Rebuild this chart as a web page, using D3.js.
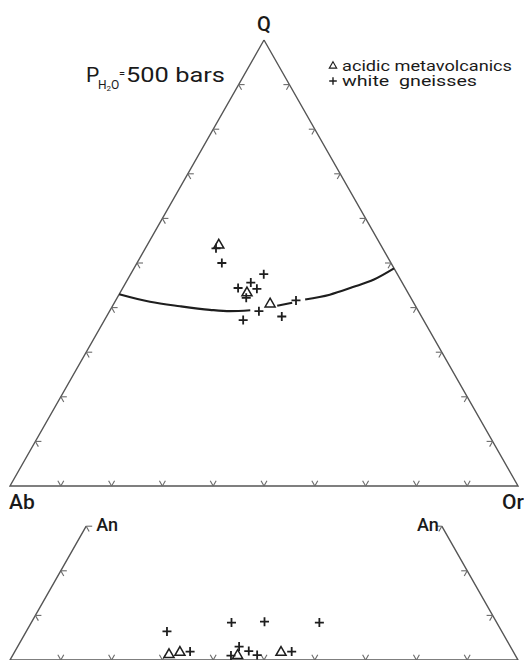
<!DOCTYPE html>
<html>
<head>
<meta charset="utf-8">
<script src="https://cdn.jsdelivr.net/npm/d3@7/dist/d3.min.js"></script>
<style>
  html, body { margin: 0; padding: 0; background: #fff; }
  svg { display: block; }
</style>
</head>
<body>
<div id="chart"></div>
<script>
// Q–Ab–Or ternary (upper) and the Ab–Or–An section (lower), P(H2O) = 500 bars

// Upper diagram samples, percent [Q, Ab, Or]
const upperTriangles = [
  [54.0, 31.9, 14.1],
  [43.3, 31.7, 25.0],
  [40.8, 28.4, 30.8]
];
const upperPluses = [
  [53.3, 32.8, 13.9],
  [50.0, 33.3, 16.7],
  [47.5, 26.3, 26.2],
  [44.4, 32.9, 22.7],
  [45.6, 29.8, 24.6],
  [44.2, 29.3, 26.5],
  [42.2, 32.4, 25.4],
  [39.2, 31.4, 29.4],
  [41.6, 22.9, 35.5],
  [37.2, 35.5, 27.3],
  [38.0, 27.5, 34.5]
];

// Cotectic line at 500 bars, percent [Q, Ab, Or]; null marks a break in the line
const cotectic = [
  [43.0, 57.0, 0.0],
  [41.3, 51.8, 6.9],
  [40.3, 46.4, 13.3],
  [39.5, 40.9, 19.6],
  [39.2, 37.1, 23.7],
  [39.4, 33.0, 27.6],
  null,
  [40.4, 27.2, 32.4],
  [41.1, 23.9, 35.0],
  null,
  [41.8, 21.0, 37.2],
  [42.9, 15.6, 41.5],
  [44.6, 10.2, 45.2],
  [46.3, 5.2, 48.5],
  [48.8, 0.0, 51.2]
];

// Lower diagram samples, percent [An, Ab, Or]
const lowerTriangles = [
  [1.2, 68.1, 30.7],
  [1.7, 65.7, 32.6],
  [1.0, 54.7, 44.3],
  [1.7, 45.8, 52.5]
];
const lowerPluses = [
  [6.4, 65.9, 27.7],
  [8.4, 52.2, 39.4],
  [8.6, 45.6, 45.8],
  [8.4, 34.9, 56.7],
  [1.9, 63.6, 34.5],
  [3.0, 53.4, 43.6],
  [1.0, 56.0, 43.0],
  [2.0, 52.0, 46.0],
  [1.1, 50.8, 48.1],
  [1.9, 43.6, 54.5]
];

// Grid ticks every 10 %
const tickFractions = d3.range(1, 10).map(d => d / 10);
const lowerSideTicks = [0.1, 0.2, 0.3];
const lowerTop = 0.3;   // An fraction where the lower section is cut

const legendItems = [
  { symbol: "triangle", label: "acidic metavolcanics" },
  { symbol: "plus", label: "white  gneisses" }
];

const W = 524, H = 660;
const svg = d3.select("#chart").append("svg")
  .attr("width", W).attr("height", H)
  .attr("viewBox", `0 0 ${W} ${H}`);

const xs = d3.scaleLinear().domain([0, 1]).range([10, 518]);
const yUpper = d3.scaleLinear().domain([0, 1]).range([486, 40]);
const yLower = d3.scaleLinear().domain([0, 1]).range([660, 214]);

// apex component, left-corner component, right-corner component
function projector(ys) {
  return (apex, left, right) => {
    const s = apex + left + right;
    const a = apex / s, r = right / s;
    return [xs(r + a / 2), ys(a)];
  };
}
const pUp = projector(yUpper);
const pLo = projector(yLower);

const edgeColor = "#555";
const tickColor = "#6a6a6a";
const ink = "#1e1e1e";
const font = "Roboto, 'Liberation Sans', sans-serif";

const line = d3.line();

function unit(a, b) {
  const dx = b[0] - a[0], dy = b[1] - a[1];
  const l = Math.hypot(dx, dy);
  return [dx / l, dy / l];
}

// A tick is two short stubs running along the grid directions
function drawTick(g, pt, dirs, len) {
  dirs.forEach(d => {
    g.append("path")
      .attr("d", line([pt, [pt[0] + d[0] * len, pt[1] + d[1] * len]]))
      .attr("stroke", tickColor).attr("stroke-width", 1.1)
      .attr("fill", "none");
  });
}

function ternaryFrame(g, P, top) {
  const A = P(1, 0, 0), L = P(0, 1, 0), R = P(0, 0, 1);
  const leftTop = P(top, 1 - top, 0), rightTop = P(top, 0, 1 - top);
  g.append("path")
    .attr("d", line([leftTop, L, R, rightTop]))
    .attr("fill", "none").attr("stroke", edgeColor)
    .attr("stroke-width", 1.4).attr("stroke-linejoin", "miter");
  return {
    A, L, R,
    dirLtoA: unit(L, A), dirRtoA: unit(R, A),
    dirAtoR: unit(A, R), dirAtoL: unit(A, L)
  };
}

const len = 6;

// ---------- upper diagram ----------
const gUp = svg.append("g");
const up = ternaryFrame(gUp, pUp, 1);

tickFractions.forEach(f => {
  drawTick(gUp, pUp(0, 1 - f, f), [up.dirLtoA, up.dirRtoA], len);
  drawTick(gUp, pUp(f, 1 - f, 0), [[1, 0], up.dirAtoR], len);
  drawTick(gUp, pUp(f, 0, 1 - f), [[-1, 0], up.dirAtoL], len);
});

// cotectic
gUp.append("path")
  .datum(cotectic)
  .attr("d", d3.line()
    .defined(d => d !== null)
    .x(d => pUp(d[0], d[1], d[2])[0])
    .y(d => pUp(d[0], d[1], d[2])[1])
    .curve(d3.curveMonotoneX))
  .attr("fill", "none").attr("stroke", "#1e1e1e")
  .attr("stroke-width", 2.1);

// ---------- lower diagram ----------
const gLo = svg.append("g");
const lo = ternaryFrame(gLo, pLo, lowerTop);

tickFractions.forEach(f => {
  drawTick(gLo, pLo(0, 1 - f, f), [lo.dirLtoA, lo.dirRtoA], len);
});
lowerSideTicks.forEach(f => {
  drawTick(gLo, pLo(f, 1 - f, 0), [[1, 0], lo.dirAtoR], len);
  drawTick(gLo, pLo(f, 0, 1 - f), [[-1, 0], lo.dirAtoL], len);
});

// ---------- markers ----------
const triPath = d3.symbol().type(d3.symbolTriangle).size(44);
function drawTriangles(g, data, P) {
  g.selectAll(null).data(data).enter().append("path")
    .attr("d", triPath)
    .attr("transform", d => {
      const p = P(d[0], d[1], d[2]);
      return `translate(${p[0]},${p[1]})`;
    })
    .attr("fill", "#fff").attr("stroke", ink).attr("stroke-width", 1.5);
}
function plusD(x, y, r) {
  return `M${x - r},${y}H${x + r}M${x},${y - r}V${y + r}`;
}
function drawPluses(g, data, P) {
  g.selectAll(null).data(data).enter().append("path")
    .attr("d", d => {
      const p = P(d[0], d[1], d[2]);
      return plusD(p[0], p[1], 4.5);
    })
    .attr("fill", "none").attr("stroke", ink).attr("stroke-width", 1.8);
}

drawTriangles(gUp, upperTriangles, pUp);
drawPluses(gUp, upperPluses, pUp);
drawTriangles(gLo, lowerTriangles, pLo);
drawPluses(gLo, lowerPluses, pLo);

// ---------- labels ----------
function label(text, x, y, size, anchor) {
  return svg.append("text")
    .attr("x", x).attr("y", y)
    .attr("font-family", font).attr("font-size", size)
    .attr("font-weight", 500)
    .attr("fill", "#1a1a1a")
    .attr("text-anchor", anchor || "start")
    .text(text);
}
label("Q", up.A[0], 31, 20, "middle");
label("Ab", 9, 509, 21);
label("Or", 524, 509, 21, "end");

const loLeftTop = pLo(lowerTop, 1 - lowerTop, 0);
const loRightTop = pLo(lowerTop, 0, 1 - lowerTop);
label("An", loLeftTop[0] + 10, 531, 18);
label("An", loRightTop[0] - 3, 531, 18, "end");

// pressure note: P with H2O subscript, "=" raised, then the value
const pt = svg.append("text")
  .attr("x", 86).attr("y", 82)
  .attr("font-family", font).attr("font-size", 21)
  .attr("fill", "#1a1a1a");
pt.append("tspan").text("P");
pt.append("tspan").attr("x", 98).attr("font-size", 12).attr("dy", 7).text("H");
pt.append("tspan").attr("font-size", 8).attr("dy", 2).text("2");
pt.append("tspan").attr("font-size", 12).attr("dy", -2).text("O");
pt.append("tspan").attr("x", 119).attr("font-size", 11).attr("dy", -12).text("=");
pt.append("tspan").attr("x", 126).attr("dy", 5)
  .attr("textLength", 99).attr("lengthAdjust", "spacingAndGlyphs")
  .text("500 bars");

// legend
const legend = svg.append("g");
const legendWidths = [170, 135];
legendItems.forEach((item, i) => {
  const y = 71 + i * 15;
  const sx = 333;
  if (item.symbol === "triangle") {
    legend.append("path")
      .attr("d", d3.symbol().type(d3.symbolTriangle).size(24))
      .attr("transform", `translate(${sx},${y - 5})`)
      .attr("fill", "#fff").attr("stroke", ink).attr("stroke-width", 1.1);
  } else {
    legend.append("path")
      .attr("d", plusD(sx, y - 5, 3.8))
      .attr("stroke", ink).attr("stroke-width", 1.4);
  }
  legend.append("text")
    .attr("x", 342).attr("y", y)
    .attr("font-family", font).attr("font-size", 14)
    .attr("fill", "#1a1a1a")
    .attr("textLength", legendWidths[i])
    .attr("lengthAdjust", "spacingAndGlyphs")
    .style("white-space", "pre")
    .text(item.label);
});
</script>
</body>
</html>
